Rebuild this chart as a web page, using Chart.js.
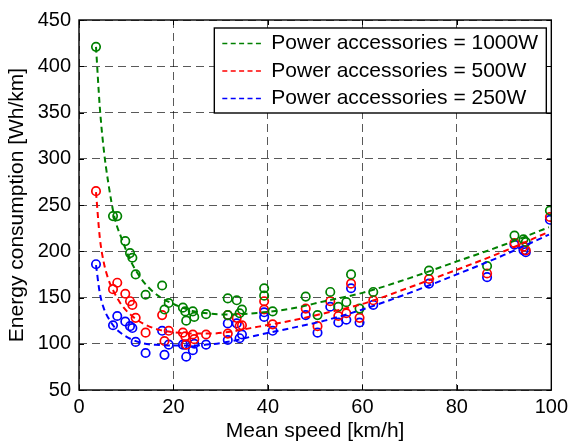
<!DOCTYPE html>
<html>
<head>
<meta charset="utf-8">
<script src="https://cdn.jsdelivr.net/npm/chart.js@4.4.1/dist/chart.umd.min.js"></script>
<style>
    html, body { margin: 0; padding: 0; background: #fff; }
    #wrap { width: 573px; height: 442px; }
</style>
</head>
<body>
<div id="wrap"><canvas id="grafica" width="573" height="442"></canvas></div>
<script>
"use strict";
/*    DATOS */
const velocidades = [3.6, 7.2, 8.1, 9.8, 10.8, 11.3, 12.0, 14.1, 17.6, 18.1, 19.0, 22.0, 22.5, 22.7, 24.1, 24.4, 26.9,
    31.5, 31.5, 33.4, 34.0, 34.5, 39.2, 39.2, 41.0, 48.0, 50.5, 53.2, 54.9, 56.6, 57.6, 59.4, 62.3, 74.1, 86.4,
    92.2, 94.1, 94.6, 99.7];
const consumo1000 = [421, 238, 238, 211, 198, 193, 175, 153, 163, 137, 144, 139, 135, 125, 135, 129, 132,
    149, 131, 147, 133, 137, 160, 152, 135, 151, 131, 156, 140, 145, 175, 138, 156, 179, 184,
    217, 213, 210, 244];
const consumo500 = [265, 159, 166, 154, 146, 142, 128, 112, 131, 103, 114, 112, 108, 99, 110, 105, 110,
    131, 111, 128, 119, 120, 146, 137, 121, 138, 119, 146, 130, 133, 165, 128, 147, 170, 176,
    209, 205, 201, 237];
const consumo250 = [186, 120, 130, 124, 119, 117, 102, 90, 114, 88, 99, 99, 99, 86, 93, 100, 99,
    122, 104, 122, 106, 110, 134, 129, 114, 131, 112, 140, 123, 126, 160, 123, 142, 165, 172,
    207, 201, 199, 234];

/* curvas de ajuste */
const ajusteVel = [3.6, 4.4, 5.2, 6.2, 7.5, 9, 11, 13.5, 17, 20, 24, 28, 32, 38, 45, 52, 60, 70, 80, 90, 99.5];
const ajuste1000 = [421, 356, 312, 274, 237, 214, 189, 168, 151, 143, 135.5, 132.5, 131.5, 133.5, 138, 146, 155, 171, 189, 207, 226];
const ajuste500 = [264, 215, 189, 170, 155, 142, 131, 122, 115, 112.5, 111, 111, 113, 118.5, 125, 133, 143, 161, 180, 200, 221];
const ajuste250 = [185, 155, 139, 128, 118, 111, 105, 100.5, 98.6, 98, 98, 99.5, 102.5, 109.5, 117, 125, 137, 155, 175, 196, 218];

const etiquetas = ["Power accessories = 1000W", "Power accessories = 500W", "Power accessories = 250W"];
const colores = ["#008000", "#ff0000", "#0000ff"];
const ticksX = [0, 20, 40, 60, 80, 100];
const ticksY = [50, 100, 150, 200, 250, 300, 350, 400, 450];

const FUENTE = '"Liberation Sans", Arial, sans-serif';

function puntos(xs, ys) {
    return xs.map((x, i) => ({ x: x, y: ys[i] }));
}

/*    MARCO, TICKS Y LEYENDA */
const marcoPlugin = {
    id: "marcoMatlab",
    afterDatasetsDraw(chart) {
        const { ctx, chartArea, scales } = chart;
        ctx.save();
        ctx.strokeStyle = "#000";
        ctx.lineWidth = 1;
        ctx.setLineDash([]);
        ctx.beginPath();
        ticksX.forEach(v => {
            const px = Math.round(scales.x.getPixelForValue(v)) + 0.5;
            ctx.moveTo(px, chartArea.bottom);
            ctx.lineTo(px, chartArea.bottom - 5);
            ctx.moveTo(px, chartArea.top);
            ctx.lineTo(px, chartArea.top + 5);
        });
        ticksY.forEach(v => {
            const py = Math.round(scales.y.getPixelForValue(v)) + 0.5;
            ctx.moveTo(chartArea.left, py);
            ctx.lineTo(chartArea.left + 5, py);
            ctx.moveTo(chartArea.right, py);
            ctx.lineTo(chartArea.right - 5, py);
        });
        ctx.stroke();
        ctx.lineWidth = 1.4;
        ctx.strokeRect(chartArea.left, chartArea.top, chartArea.right - chartArea.left, chartArea.bottom - chartArea.top);
        ctx.restore();
    },
    afterDraw(chart) {
        const { ctx, chartArea } = chart;
        const ancho = 332;
        const alto = 85;
        const x0 = chartArea.right - 5 - ancho;
        const y0 = chartArea.top + 8;
        ctx.save();
        ctx.fillStyle = "#fff";
        ctx.fillRect(x0, y0, ancho, alto);
        ctx.strokeStyle = "#000";
        ctx.lineWidth = 1.4;
        ctx.strokeRect(x0, y0, ancho, alto);
        ctx.font = "21px " + FUENTE;
        ctx.textBaseline = "middle";
        etiquetas.forEach((texto, i) => {
            const yFila = y0 + 15.5 + i * 27.5;
            ctx.strokeStyle = colores[i];
            ctx.lineWidth = 1.6;
            ctx.setLineDash([5, 3.4]);
            ctx.beginPath();
            ctx.moveTo(x0 + 8, yFila);
            ctx.lineTo(x0 + 50, yFila);
            ctx.stroke();
            ctx.setLineDash([]);
            ctx.fillStyle = "#000";
            ctx.fillText(texto, x0 + 57, yFila);
        });
        ctx.restore();
    }
};

/*    GRAFICA */
function inicializarGrafica() {
    const canvas = document.getElementById("grafica");
    const series = [consumo1000, consumo500, consumo250];
    const ajustes = [ajuste1000, ajuste500, ajuste250];
    const datasets = [];
    ajustes.forEach((a, i) => {
        datasets.push({
            label: etiquetas[i],
            data: puntos(ajusteVel, a),
            showLine: true,
            borderColor: colores[i],
            borderWidth: 2,
            borderDash: [6, 4],
            pointRadius: 0,
            cubicInterpolationMode: "monotone",
            fill: false
        });
    });
    series.forEach((s, i) => {
        datasets.push({
            label: etiquetas[i] + " (medido)",
            data: puntos(velocidades, s),
            showLine: false,
            borderColor: colores[i],
            backgroundColor: "rgba(0,0,0,0)",
            pointRadius: 4.2,
            pointBorderWidth: 1.7,
            pointStyle: "circle"
        });
    });

    const gridComun = { color: "rgba(0,0,0,0.65)", lineWidth: 1, drawTicks: false };
    const bordeComun = { display: false, dash: [8, 5] };

    new Chart(canvas, {
        type: "scatter",
        data: { datasets: datasets },
        options: {
            responsive: false,
            animation: false,
            devicePixelRatio: 1,
            layout: { padding: { top: 20, right: 20, left: 0, bottom: 0 } },
            plugins: {
                legend: { display: false },
                tooltip: { enabled: false }
            },
            scales: {
                x: {
                    type: "linear",
                    min: 0,
                    max: 100,
                    ticks: { stepSize: 20, color: "#000", padding: 5, font: { family: FUENTE, size: 20 } },
                    grid: gridComun,
                    border: bordeComun,
                    title: {
                        display: true,
                        text: "Mean speed [km/h]",
                        color: "#000",
                        padding: 0,
                        font: { family: FUENTE, size: 21, lineHeight: 1 }
                    },
                    afterFit(scale) { scale.height = 52; }
                },
                y: {
                    type: "linear",
                    min: 50,
                    max: 450,
                    ticks: { stepSize: 50, color: "#000", padding: 8, font: { family: FUENTE, size: 20 } },
                    grid: gridComun,
                    border: bordeComun,
                    title: {
                        display: true,
                        text: "Energy consumption [Wh/km]",
                        color: "#000",
                        padding: { top: 7, bottom: 0 },
                        font: { family: FUENTE, size: 21, lineHeight: 1 }
                    },
                    afterFit(scale) { scale.width = 79; }
                }
            }
        },
        plugins: [marcoPlugin]
    });
}

document.addEventListener("DOMContentLoaded", () => {
    inicializarGrafica();
});
</script>
</body>
</html>
